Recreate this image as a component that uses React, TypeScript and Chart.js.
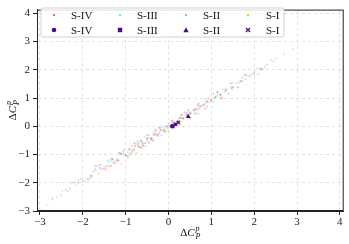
import React, { useEffect, useRef } from "react";
import { Chart, registerables } from "chart.js";

Chart.register(...registerables);

const seriesNames = ["S-IV", "S-III", "S-II", "S-I"];
const smallColors = ["rgba(232,60,110,0.4)", "rgba(64,224,208,0.4)", "rgba(160,140,240,0.4)", "rgba(255,165,0,0.4)"];
const legendColors = ["#e83c6e", "#40e0d0", "#a08cf0", "#ffa500"];
const bigColor = "#4b0c8c";

const s4x = [-2.1, -1.8, -1.7, -1.6, -1.45, -1.35, -1.3, -1.2, -1.15, -1.1, -1.0, -0.95, -0.92, -0.85, -0.8, -0.78, -0.72, -0.7, -0.65, -0.62, -0.6, -0.55, -0.5, -0.48, -0.4, -0.38, -0.33, -0.3, -0.25, -0.22, -0.18, -0.1, -0.08, -0.03, 0.05, 0.08, 0.12, 0.2, 0.22, 0.28, 0.3, 0.35, 0.38, 0.43, 0.5, 0.52, 0.58, 0.62, 0.66, 0.7, 0.74, 0.82, 0.86, 0.9, 1.0, 1.05, 1.1, 1.15, 1.22, 1.25, 1.35, 1.45, 1.5, 1.62, 1.68, 1.8, 1.9, 2.15];
const s4y = [-2.0, -1.75, -1.42, -1.48, -1.42, -1.4, -1.18, -1.2, -0.95, -0.98, -1.02, -1.05, -0.82, -0.88, -0.6, -0.7, -0.55, -0.72, -0.75, -0.55, -0.68, -0.6, -0.32, -0.42, -0.43, -0.5, -0.28, -0.15, -0.3, -0.05, -0.12, -0.14, -0.2, 0.0, 0.02, 0.2, 0.14, 0.15, 0.05, 0.3, 0.4, 0.28, 0.5, 0.45, 0.44, 0.3, 0.58, 0.45, 0.6, 0.8, 0.72, 0.74, 0.62, 0.88, 0.92, 1.15, 1.02, 1.2, 1.12, 1.0, 1.3, 1.52, 1.38, 1.38, 1.6, 1.82, 1.78, 2.02];

const s3x = [-2.7, -2.5, -2.3, -2.1, -1.9, -1.8, -1.7, -1.6, -1.5, -1.42, -1.35, -1.28, -1.2, -1.12, -1.05, -0.95, -0.88, -0.82, -0.76, -0.72, -0.65, -0.6, -0.55, -0.5, -0.45, -0.4, -0.35, -0.3, -0.25, -0.2, -0.15, -0.1, -0.05, 0.0, 0.08, 0.12, 0.16, 0.25, 0.3, 0.33, 0.42, 0.46, 0.5, 0.6, 0.65, 0.7, 0.8, 0.85, 0.9, 1.0, 1.05, 1.1, 1.2, 1.26, 1.32, 1.45, 1.5, 1.58, 1.72, 1.78, 1.85, 2.0, 2.08, 2.15, 2.3, 2.4, 2.5, 2.7, 2.9];
const s3y = [-2.6, -2.45, -2.2, -1.92, -1.85, -1.8, -1.55, -1.38, -1.45, -1.2, -1.22, -1.3, -1.15, -0.95, -0.95, -0.92, -1.0, -0.8, -0.62, -0.65, -0.75, -0.6, -0.38, -0.45, -0.55, -0.42, -0.2, -0.25, -0.35, -0.22, 0.0, -0.05, -0.15, -0.06, 0.1, -0.02, 0.12, 0.28, 0.15, 0.3, 0.4, 0.55, 0.5, 0.55, 0.45, 0.68, 0.74, 0.95, 0.88, 0.92, 0.85, 1.05, 1.12, 1.3, 1.28, 1.36, 1.55, 1.52, 1.6, 1.8, 1.78, 1.85, 2.05, 2.05, 2.18, 2.35, 2.4, 2.55, 2.73];

const s2x = [-2.4, -2.2, -2.0, -1.85, -1.75, -1.65, -1.55, -1.48, -1.4, -1.32, -1.25, -1.18, -1.12, -1.05, -1.0, -0.9, -0.85, -0.8, -0.7, -0.65, -0.6, -0.5, -0.46, -0.42, -0.35, -0.3, -0.27, -0.2, -0.16, -0.12, -0.05, 0.0, 0.03, 0.1, 0.14, 0.18, 0.26, 0.3, 0.34, 0.42, 0.48, 0.52, 0.62, 0.68, 0.72, 0.84, 0.9, 0.96, 1.08, 1.14, 1.2, 1.34, 1.4, 1.48, 1.64, 1.72, 1.8, 2.0, 2.1, 2.2, 2.45];
const s2y = [-2.25, -1.98, -1.95, -1.85, -1.6, -1.4, -1.52, -1.5, -1.28, -1.15, -1.25, -1.22, -1.0, -0.85, -1.02, -0.8, -0.95, -0.82, -0.62, -0.5, -0.62, -0.44, -0.58, -0.45, -0.3, -0.12, -0.3, -0.15, -0.32, -0.16, 0.0, 0.12, -0.02, 0.12, -0.05, 0.1, 0.28, 0.4, 0.26, 0.42, 0.3, 0.45, 0.6, 0.75, 0.62, 0.8, 0.7, 0.85, 1.02, 1.2, 1.08, 1.25, 1.15, 1.32, 1.55, 1.72, 1.66, 1.9, 1.85, 2.02, 2.3];

const s1x = [-2.98, -2.85, -2.72, -2.6, -2.48, -2.35, -2.25, -2.15, -2.05, -1.95, -1.88, -1.8, -1.72, -1.65, -1.58, -1.52, -1.46, -1.4, -1.34, -1.28, -1.22, -1.16, -1.1, -1.05, -1.0, -0.95, -0.9, -0.85, -0.8, -0.75, -0.7, -0.65, -0.6, -0.55, -0.5, -0.45, -0.4, -0.35, -0.3, -0.22, -0.18, -0.12, -0.04, 0.0, 0.05, 0.1, 0.14, 0.22, 0.28, 0.32, 0.42, 0.46, 0.52, 0.64, 0.7, 0.76, 0.88, 0.94, 1.0, 1.14, 1.22, 1.3, 1.48, 1.7, 1.95, 2.25];
const s1y = [-2.97, -2.78, -2.55, -2.5, -2.28, -2.3, -2.0, -2.08, -1.85, -1.95, -1.9, -1.75, -1.5, -1.68, -1.35, -1.5, -1.55, -1.42, -1.15, -1.3, -1.32, -1.2, -1.33, -0.88, -1.05, -1.12, -0.95, -0.7, -0.85, -0.95, -0.72, -0.5, -0.68, -0.7, -0.52, -0.3, -0.45, -0.5, -0.32, -0.26, -0.05, -0.14, -0.06, -0.2, 0.02, 0.18, 0.1, 0.2, 0.05, 0.28, 0.4, 0.58, 0.48, 0.6, 0.45, 0.7, 0.84, 0.98, 0.92, 1.08, 0.98, 1.2, 1.4, 1.58, 1.85, 2.1];

// mean markers: S-IV circle, S-III square, S-II triangle, S-I cross
const meanX = [0.09, 0.16, 0.46, 0.23];
const meanY = [0.0, 0.07, 0.34, 0.14];
const meanStyles = ["circle", "rect", "triangle", "crossRot"];

const xTicks = [-3, -2, -1, 0, 1, 2, 3, 4];
const yTicks = [-3, -2, -1, 0, 1, 2, 3, 4];

const W = 349;
const H = 244;

function pts(xs: number[], ys: number[]) {
  return xs.map((x, i) => ({ x, y: ys[i] }));
}

function drawMathLabel(ctx: CanvasRenderingContext2D, cx: number, cy: number) {
  const big = "11px 'Liberation Serif', serif";
  const bigIt = "italic 11px 'Liberation Serif', serif";
  const small = "italic 8px 'Liberation Serif', serif";
  ctx.font = big;
  const wD = ctx.measureText("Δ").width;
  ctx.font = bigIt;
  const wC = ctx.measureText("C").width;
  ctx.font = small;
  const wp = ctx.measureText("p").width;
  const wP = ctx.measureText("P").width;
  const total = wD + wC + Math.max(wp, wP) + 1;
  let x = cx - total / 2;
  ctx.fillStyle = "#111";
  ctx.textBaseline = "alphabetic";
  ctx.textAlign = "left";
  ctx.font = big;
  ctx.fillText("Δ", x, cy + 4);
  x += wD;
  ctx.font = bigIt;
  ctx.fillText("C", x, cy + 4);
  x += wC + 1;
  ctx.font = small;
  ctx.fillText("p", x, cy - 1);
  ctx.fillText("P", x, cy + 7);
}

const decorPlugin = {
  id: "decor",
  afterDatasetsDraw(chart: any) {
    const ctx: CanvasRenderingContext2D = chart.ctx;
    const a = chart.chartArea;
    ctx.save();
    ctx.strokeStyle = "#222";
    ctx.lineWidth = 1;
    ctx.strokeRect(a.left + 0.5, a.top + 0.5, a.right - a.left - 1, a.bottom - a.top - 1);

    // legend
    const lx = 41, ly = 8, lw = 243, lh = 29, r = 2;
    ctx.beginPath();
    ctx.moveTo(lx + r, ly);
    ctx.lineTo(lx + lw - r, ly);
    ctx.quadraticCurveTo(lx + lw, ly, lx + lw, ly + r);
    ctx.lineTo(lx + lw, ly + lh - r);
    ctx.quadraticCurveTo(lx + lw, ly + lh, lx + lw - r, ly + lh);
    ctx.lineTo(lx + r, ly + lh);
    ctx.quadraticCurveTo(lx, ly + lh, lx, ly + lh - r);
    ctx.lineTo(lx, ly + r);
    ctx.quadraticCurveTo(lx, ly, lx + r, ly);
    ctx.closePath();
    ctx.fillStyle = "rgba(255,255,255,0.85)";
    ctx.fill();
    ctx.strokeStyle = "#d0d0d0";
    ctx.stroke();

    const markerX = [54, 120, 186, 248];
    const textX = [71, 137, 203, 266];
    const rowY = [15, 30];
    ctx.font = "11px 'Liberation Serif', serif";
    ctx.textBaseline = "middle";
    ctx.textAlign = "left";
    for (let i = 0; i < 4; i++) {
      ctx.fillStyle = legendColors[i];
      ctx.beginPath();
      ctx.arc(markerX[i], rowY[0], 1.1, 0, Math.PI * 2);
      ctx.fill();
      ctx.fillStyle = "#111";
      ctx.fillText(seriesNames[i], textX[i], rowY[0] + 1);
      ctx.fillText(seriesNames[i], textX[i], rowY[1] + 1);
    }
    ctx.fillStyle = bigColor;
    ctx.strokeStyle = bigColor;
    ctx.beginPath();
    ctx.arc(markerX[0], rowY[1], 2.3, 0, Math.PI * 2);
    ctx.fill();
    ctx.fillRect(markerX[1] - 2.2, rowY[1] - 2.2, 4.4, 4.4);
    ctx.beginPath();
    ctx.moveTo(markerX[2], rowY[1] - 2.8);
    ctx.lineTo(markerX[2] + 2.7, rowY[1] + 2.2);
    ctx.lineTo(markerX[2] - 2.7, rowY[1] + 2.2);
    ctx.closePath();
    ctx.fill();
    ctx.lineWidth = 1.3;
    ctx.beginPath();
    ctx.moveTo(markerX[3] - 2, rowY[1] - 2);
    ctx.lineTo(markerX[3] + 2, rowY[1] + 2);
    ctx.moveTo(markerX[3] + 2, rowY[1] - 2);
    ctx.lineTo(markerX[3] - 2, rowY[1] + 2);
    ctx.stroke();

    drawMathLabel(ctx, (a.left + a.right) / 2, 232);
    ctx.translate(12, (a.top + a.bottom) / 2);
    ctx.rotate(-Math.PI / 2);
    drawMathLabel(ctx, 0, 0);
    ctx.restore();
  },
};

export default function App() {
  const ref = useRef<HTMLCanvasElement | null>(null);
  useEffect(() => {
    if (!ref.current) return;
    const smallSets = [
      pts(s4x, s4y),
      pts(s3x, s3y),
      pts(s2x, s2y),
      pts(s1x, s1y),
    ].map((data, i) => ({
      label: seriesNames[i],
      data,
      pointRadius: 1,
      pointBorderWidth: 0,
      pointBackgroundColor: smallColors[i],
      backgroundColor: smallColors[i],
      showLine: false,
      order: 2,
    }));
    const bigSets = meanX.map((x, i) => ({
      label: seriesNames[i] + " mean",
      data: [{ x, y: meanY[i] }],
      pointStyle: meanStyles[i],
      pointRadius: i === 2 ? 2.8 : 2.3,
      pointBorderWidth: i === 3 ? 1.3 : 0,
      pointBackgroundColor: bigColor,
      pointBorderColor: bigColor,
      showLine: false,
      order: 1,
    }));
    const tickFont = { family: "'Liberation Serif', serif", size: 11 };
    const fmt = (v: any) => (v < 0 ? "−" + Math.abs(v) : String(v));
    const chart = new Chart(ref.current, {
      type: "scatter",
      data: { datasets: [...smallSets, ...bigSets] as any },
      plugins: [decorPlugin],
      options: {
        animation: false,
        responsive: false,
        devicePixelRatio: 1,
        layout: { padding: { top: 3, right: 3, left: 0, bottom: 0 } },
        plugins: { legend: { display: false }, tooltip: { enabled: false } },
        scales: {
          x: {
            type: "linear",
            min: -3.07,
            max: 4.09,
            afterBuildTicks: (s: any) => {
              s.ticks = xTicks.map((v) => ({ value: v }));
            },
            afterFit: (s: any) => {
              s.height = 33;
            },
            grid: { color: "#e2e2e2", tickColor: "#222", tickLength: 4, tickBorderDash: [] as any },
            border: { display: true, color: "#222", dash: [3, 3] },
            ticks: { font: tickFont, color: "#222", padding: 1, maxRotation: 0, callback: fmt },
          },
          y: {
            type: "linear",
            min: -3,
            max: 4.13,
            afterBuildTicks: (s: any) => {
              s.ticks = yTicks.map((v) => ({ value: v }));
            },
            afterFit: (s: any) => {
              s.width = 37;
            },
            grid: { color: "#e2e2e2", tickColor: "#222", tickLength: 4, tickBorderDash: [] as any },
            border: { display: true, color: "#222", dash: [3, 3] },
            ticks: { font: tickFont, color: "#222", padding: 3, callback: fmt },
          },
        },
      } as any,
    });
    return () => chart.destroy();
  }, []);
  return (
    <div style={{ position: "fixed", left: 0, top: 0, width: W, height: H, background: "#fff" }}>
      <canvas ref={ref} width={W} height={H} style={{ width: W, height: H, display: "block" }} />
    </div>
  );
}
